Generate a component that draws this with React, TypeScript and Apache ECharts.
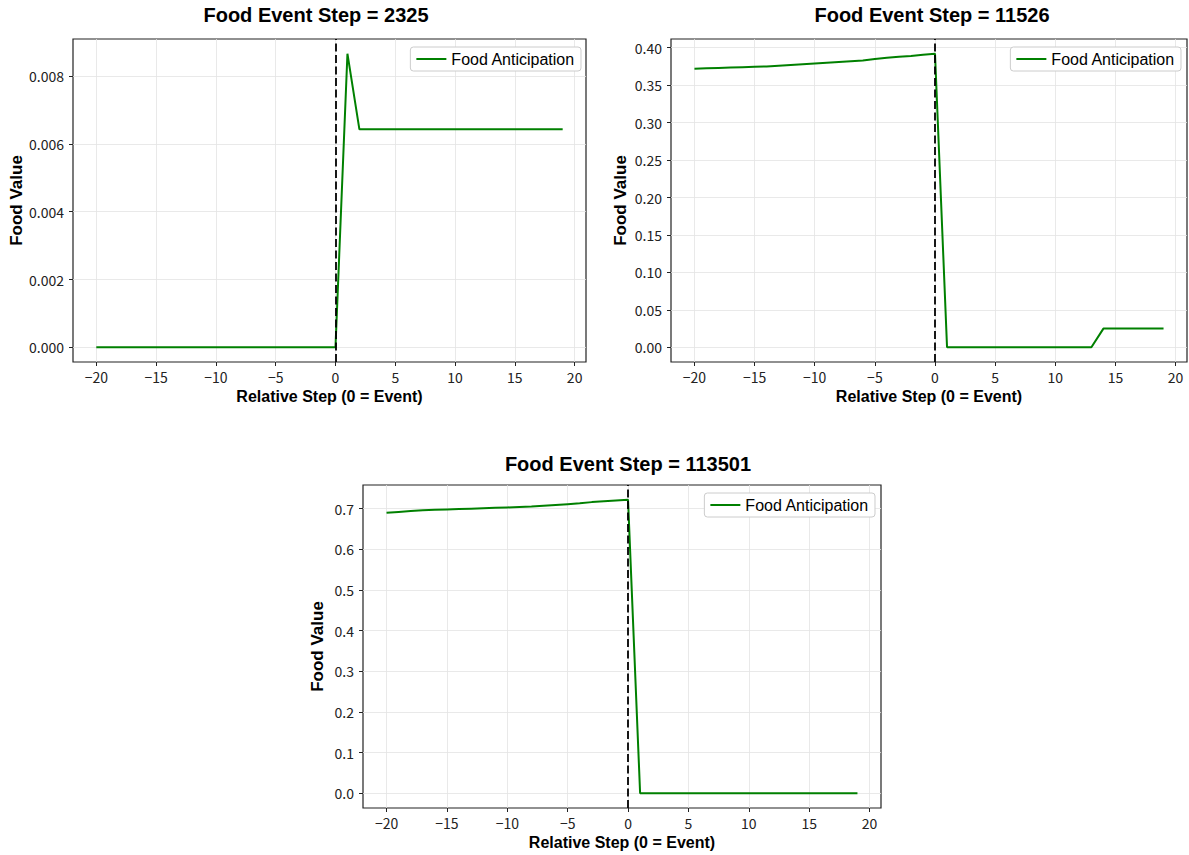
import React, { useEffect, useRef } from "react";
import * as echarts from "echarts";

const relativeSteps = [
  -20, -19, -18, -17, -16, -15, -14, -13, -12, -11, -10, -9, -8, -7, -6, -5, -4, -3, -2, -1,
  0, 1, 2, 3, 4, 5, 6, 7, 8, 9, 10, 11, 12, 13, 14, 15, 16, 17, 18, 19,
];

const food2325 = [
  0, 0, 0, 0, 0, 0, 0, 0, 0, 0, 0, 0, 0, 0, 0, 0, 0, 0, 0, 0,
  0, 0.00866, 0.00643, 0.00643, 0.00643, 0.00643, 0.00643, 0.00643, 0.00643, 0.00643,
  0.00643, 0.00643, 0.00643, 0.00643, 0.00643, 0.00643, 0.00643, 0.00643, 0.00643, 0.00643,
];

const food11526 = [
  0.372, 0.3725, 0.373, 0.3735, 0.374, 0.3745, 0.375, 0.376, 0.377, 0.378,
  0.379, 0.38, 0.381, 0.382, 0.383, 0.385, 0.3865, 0.388, 0.389, 0.3905,
  0.392, 0, 0, 0, 0, 0, 0, 0, 0, 0,
  0, 0, 0, 0, 0.025, 0.025, 0.025, 0.025, 0.025, 0.025,
];

const food113501 = [
  0.69, 0.692, 0.694, 0.696, 0.697, 0.698, 0.699, 0.7, 0.701, 0.702,
  0.703, 0.704, 0.705, 0.707, 0.709, 0.711, 0.713, 0.716, 0.718, 0.72,
  0.722, 0, 0, 0, 0, 0, 0, 0, 0, 0,
  0, 0, 0, 0, 0, 0, 0, 0, 0, 0,
];

const xTicks = [-20, -15, -10, -5, 0, 5, 10, 15, 20];
const yTicks2325 = [0, 0.002, 0.004, 0.006, 0.008];
const yTicks11526 = [0, 0.05, 0.1, 0.15, 0.2, 0.25, 0.3, 0.35, 0.4];
const yTicks113501 = [0, 0.1, 0.2, 0.3, 0.4, 0.5, 0.6, 0.7];

const titles = ["Food Event Step = 2325", "Food Event Step = 11526", "Food Event Step = 113501"];
const seriesName = "Food Anticipation";
const xName = "Relative Step (0 = Event)";
const yName = "Food Value";

const panels = [
  { data: food2325, yTicks: yTicks2325, decimals: 3, grid: { left: 73, top: 39, width: 513, height: 323 }, titleX: 316, titleY: 15, yGap: 48, legendRight: 608, legendTop: 47 },
  { data: food11526, yTicks: yTicks11526, decimals: 2, grid: { left: 671, top: 39, width: 516, height: 323 }, titleX: 932, titleY: 15, yGap: 42, legendRight: 8, legendTop: 47 },
  { data: food113501, yTicks: yTicks113501, decimals: 1, grid: { left: 363, top: 485, width: 518, height: 323 }, titleX: 628, titleY: 464, yGap: 37, legendRight: 314, legendTop: 493 },
];

const SANS = "'Liberation Sans', Arial, sans-serif";
const TICKFONT = "'Noto Sans CJK SC', 'DejaVu Sans', sans-serif";

export default function App() {
  const ref = useRef<HTMLDivElement>(null);

  useEffect(() => {
    if (!ref.current) return;
    const chart = echarts.init(ref.current, undefined, { renderer: "svg" });

    const xMinData = Math.min(...relativeSteps);
    const xMaxData = Math.max(...relativeSteps);
    const xPad = (xMaxData - xMinData) * 0.05;

    const grids = panels.map((p) => ({
      ...p.grid,
      show: true,
      borderColor: "#222",
      borderWidth: 1.2,
      backgroundColor: "transparent",
      containLabel: false,
    }));

    const xAxes = panels.map((p, i) => ({
      type: "value",
      gridIndex: i,
      min: xMinData - xPad,
      max: xMaxData + xPad,
      axisLine: { show: false, onZero: false },
      axisTick: { show: true, customValues: xTicks, length: 4, lineStyle: { color: "#222", width: 1 } },
      axisLabel: {
        customValues: xTicks,
        formatter: (v: number) => String(v).replace("-", "\u2212"),
        fontFamily: TICKFONT,
        fontSize: 14,
        color: "#222",
        margin: 8,
      },
      splitLine: { show: true, lineStyle: { color: "#e3e3e3", width: 0.8 } },
      name: xName,
      nameLocation: "middle",
      nameGap: 26,
      nameTextStyle: { fontFamily: SANS, fontSize: 16, fontWeight: "bold", color: "#000" },
    }));

    const yAxes = panels.map((p, i) => {
      const mn = Math.min(...p.data);
      const mx = Math.max(...p.data);
      const pad = (mx - mn) * 0.05;
      return {
        type: "value",
        gridIndex: i,
        min: mn - pad,
        max: mx + pad,
        axisLine: { show: false, onZero: false },
        axisTick: { show: true, customValues: p.yTicks, length: 4, lineStyle: { color: "#222", width: 1 } },
        axisLabel: {
          customValues: p.yTicks,
          formatter: (v: number) => v.toFixed(p.decimals),
          fontFamily: TICKFONT,
          fontSize: 14,
          color: "#222",
          margin: 9,
        },
        splitLine: { show: true, lineStyle: { color: "#e3e3e3", width: 0.8 } },
        name: yName,
        nameLocation: "middle",
        nameGap: p.yGap,
        nameRotate: 90,
        nameTextStyle: { fontFamily: SANS, fontSize: 17, fontWeight: "bold", color: "#000" },
      };
    });

    const series = panels.map((p, i) => ({
      type: "line",
      name: seriesName,
      xAxisIndex: i,
      yAxisIndex: i,
      data: relativeSteps.map((x, j) => [x, p.data[j]]),
      showSymbol: false,
      symbol: "none",
      lineStyle: { color: "#008000", width: 2 },
      itemStyle: { color: "#008000" },
      z: 3,
      markLine: {
        silent: true,
        symbol: ["none", "none"],
        label: { show: false },
        lineStyle: { color: "#000", type: [8, 3.5], width: 1.8 },
        data: [{ xAxis: 0 }],
        z: 4,
      },
    }));

    const legends = panels.map((p) => ({
      data: [seriesName],
      right: p.legendRight,
      top: p.legendTop,
      icon: "rect",
      itemWidth: 30,
      itemHeight: 2,
      itemStyle: { color: "#008000" },
      textStyle: { fontFamily: SANS, fontSize: 16, color: "#000" },
      backgroundColor: "#ffffff",
      borderColor: "#cccccc",
      borderWidth: 1,
      borderRadius: 3,
      padding: [4, 6, 4, 6],
      selectedMode: false,
    }));

    const graphics = panels.map((p, i) => ({
      type: "text",
      x: p.titleX,
      y: p.titleY,
      style: {
        text: titles[i],
        textAlign: "center",
        textVerticalAlign: "middle",
        fontFamily: SANS,
        fontSize: 20,
        fontWeight: "bold",
        fill: "#000",
      },
    }));

    chart.setOption({
      animation: false,
      backgroundColor: "#ffffff",
      grid: grids,
      xAxis: xAxes,
      yAxis: yAxes,
      series,
      legend: legends,
      graphic: graphics,
    });

    return () => chart.dispose();
  }, []);

  return (
    <div
      ref={ref}
      style={{ position: "absolute", left: 0, top: 0, width: 1189, height: 855 }}
    />
  );
}
